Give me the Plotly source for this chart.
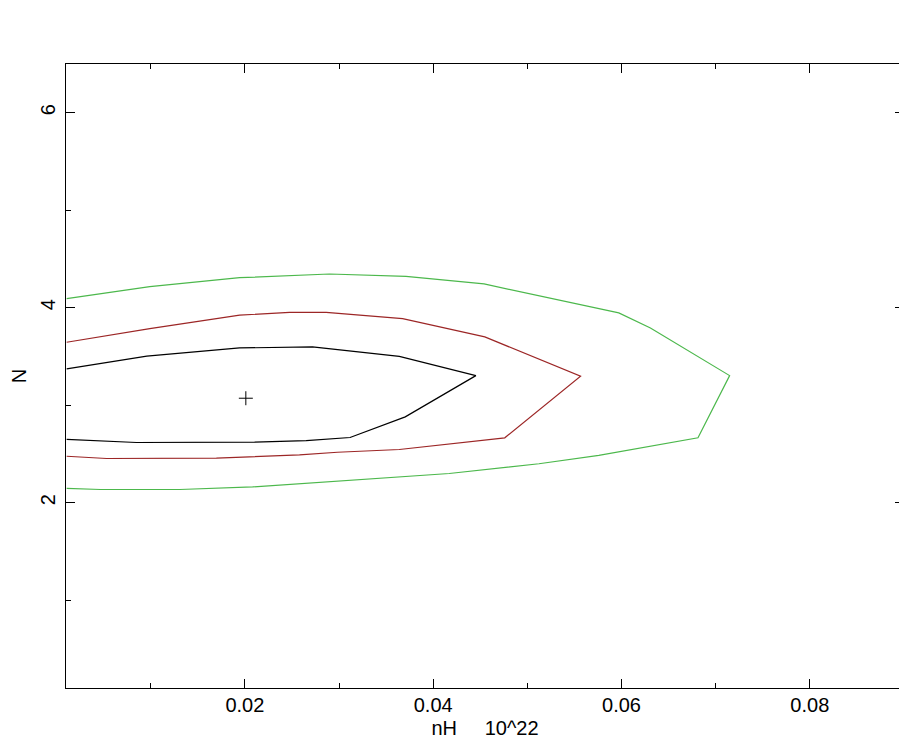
import plotly.graph_objects as go

# confidence contours for nH (10^22) vs N
# each one runs from the left edge along the top, round the tip, and back along the bottom
black_x = [0.00107, 0.00958, 0.01944, 0.02718, 0.0364, 0.04453,
           0.03703, 0.03117, 0.02651, 0.02103, 0.00849, 0.00319, 0.00107]
black_y = [3.373, 3.504, 3.588, 3.598, 3.502, 3.304,
           2.881, 2.669, 2.638, 2.621, 2.618, 2.638, 2.649]

red_x = [0.00107, 0.0099, 0.01944, 0.02474, 0.02863, 0.03675, 0.04548, 0.05565,
         0.0476, 0.0364, 0.02983, 0.0258, 0.01697, 0.00531, 0.00107]
red_y = [3.646, 3.786, 3.924, 3.953, 3.953, 3.888, 3.701, 3.297,
         2.666, 2.546, 2.518, 2.492, 2.457, 2.454, 2.477]

green_x = [0.00107, 0.0099, 0.01944, 0.02898, 0.03711, 0.0454, 0.05971, 0.06307, 0.07148,
           0.06812, 0.05759, 0.05123, 0.0417, 0.03004, 0.02082, 0.01308, 0.00467, 0.00107]
green_y = [4.093, 4.216, 4.308, 4.346, 4.322, 4.244, 3.947, 3.793, 3.304,
           2.666, 2.485, 2.400, 2.300, 2.221, 2.162, 2.136, 2.136, 2.147]

# best fit point
best_x = [0.0201]
best_y = [3.072]

fig = go.Figure()
fig.add_trace(go.Scatter(x=green_x, y=green_y, mode="lines",
                         line=dict(color="#4cb84c", width=1.2)))
fig.add_trace(go.Scatter(x=red_x, y=red_y, mode="lines",
                         line=dict(color="#9c2626", width=1.2)))
fig.add_trace(go.Scatter(x=black_x, y=black_y, mode="lines",
                         line=dict(color="black", width=1.2)))
fig.add_trace(go.Scatter(x=best_x, y=best_y, mode="markers",
                         marker=dict(symbol="cross-thin", size=10,
                                     line=dict(color="black", width=1))))

font = dict(family="Liberation Sans, Arial, sans-serif", size=20, color="black")

# the page body has an 8px margin, so the figure is a bit smaller than the window
fig.update_layout(
    width=899, height=731,
    margin=dict(l=58, r=3, t=56, b=51),
    paper_bgcolor="white", plot_bgcolor="white",
    showlegend=False,
    font=font,
)
fig.update_xaxes(range=[0.001, 0.09], tick0=0, dtick=0.02,
                 showgrid=False, zeroline=False, automargin=False,
                 showline=True, linecolor="black", linewidth=1, mirror="ticks",
                 ticks="inside", ticklen=9, tickwidth=1, tickcolor="black",
                 minor=dict(dtick=0.01, ticks="inside", ticklen=5, tickwidth=1, tickcolor="black", showgrid=False),
                 tickfont=font, ticklabelstandoff=-1,
                 title=dict(text="nH\u00a0\u00a0\u00a0\u00a0\u00a010^22", font=font, standoff=21))
fig.update_yaxes(range=[0.1, 6.5], tick0=0, dtick=2,
                 showgrid=False, zeroline=False, automargin=False,
                 showline=True, linecolor="black", linewidth=1, mirror="ticks",
                 ticks="inside", ticklen=9, tickwidth=1, tickcolor="black",
                 minor=dict(dtick=1, ticks="inside", ticklen=5, tickwidth=1, tickcolor="black", showgrid=False),
                 tickangle=-90, tickfont=font, ticklabelstandoff=2,
                 title=dict(text="N", font=font, standoff=15))

fig.write_html("out.html")
